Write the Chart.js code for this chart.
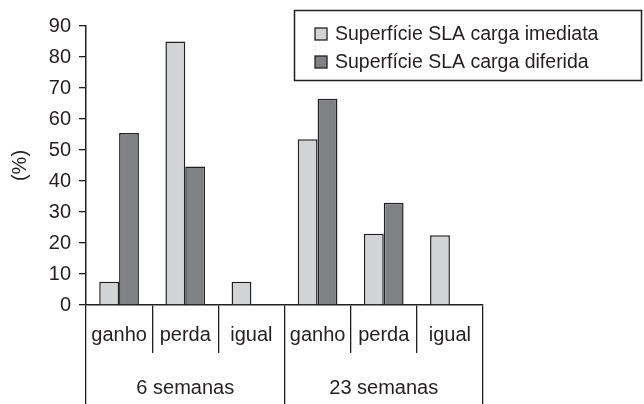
<!DOCTYPE html>
<html>
<head>
<meta charset="utf-8">
<script src="https://cdn.jsdelivr.net/npm/chart.js@4"></script>
<style>
  html, body { margin: 0; padding: 0; background: #fff; }
  #wrap { width: 644px; height: 404px; }
</style>
</head>
<body>
<div id="wrap"><canvas id="chart"></canvas></div>
<script>
'use strict';

// data
const categories = ['ganho', 'perda', 'igual', 'ganho', 'perda', 'igual'];
const periods = ['6 semanas', '23 semanas'];
const seriesNames = ['Superfície SLA carga imediata', 'Superfície SLA carga diferida'];
const imediata = [7.5, 85, 7.5, 53.5, 23, 22.5];
const diferida = [55.5, 44.7, 0, 66.5, 33, 0];
const yTicks = [0, 10, 20, 30, 40, 50, 60, 70, 80, 90];

const INK = '#231f20';
const FONT = '"Liberation Sans", Arial, sans-serif';

// boxed legend, drawn over the top right corner
let boxLegend = {
    id: 'boxLegend',
    afterDraw: function(chart) {
        let ctx = chart.ctx;
        ctx.save();
        ctx.lineWidth = 1.5;
        ctx.strokeStyle = INK;
        ctx.strokeRect(294.5, 10.5, 347, 70);
        ctx.font = '19.5px ' + FONT;
        ctx.textBaseline = 'middle';
        chart.data.datasets.forEach((ds, i) => {
            let cy = 34 + i * 28;
            ctx.fillStyle = ds.backgroundColor;
            ctx.fillRect(315, cy - 6, 12, 12);
            ctx.lineWidth = 1.3;
            ctx.strokeRect(315, cy - 6, 12, 12);
            ctx.fillStyle = INK;
            ctx.fillText(ds.label, 335, cy + 1);
        });
        ctx.restore();
    }
};

new Chart(document.getElementById('chart'), {
    type: 'bar',
    data: {
        labels: categories,
        datasets: [{
            label: seriesNames[0],
            data: imediata,
            backgroundColor: '#d2d3d5',
            borderColor: INK,
            borderWidth: 1.5,
        }, {
            label: seriesNames[1],
            data: diferida,
            backgroundColor: '#808184',
            borderColor: INK,
            borderWidth: 1.5,
        }]
    },
    options: {
        responsive: true,
        maintainAspectRatio: false,
        animation: false,
        devicePixelRatio: 1,
        categoryPercentage: 0.6,
        barPercentage: 1.0,
        layout: { padding: { top: 26, right: 161, left: 0, bottom: 0 } },
        plugins: {
            legend: { display: false },
            tooltip: { enabled: false },
        },
        scales: {
            x: {
                type: 'category',
                offset: true,
                grid: { display: true, offset: true, drawOnChartArea: false, drawTicks: true, tickLength: 48, color: INK, lineWidth: 1.3 },
                border: { display: true, color: INK, width: 1.5 },
                ticks: { color: INK, font: { family: FONT, size: 20 }, padding: -30, maxRotation: 0, autoSkip: false },
                afterFit: (s) => { s.height = 48; },
            },
            x2: {
                type: 'category',
                labels: periods,
                position: 'bottom',
                offset: true,
                grid: { display: true, offset: true, drawOnChartArea: false, drawTicks: true, tickLength: 51, color: INK, lineWidth: 1.3 },
                border: { display: false },
                ticks: { color: INK, font: { family: FONT, size: 20 }, padding: -28, maxRotation: 0, autoSkip: false },
                afterFit: (s) => { s.height = 51; },
            },
            y: {
                min: 0,
                max: 90,
                afterBuildTicks: (s) => { s.ticks = yTicks.map(v => ({ value: v })); },
                grid: { display: true, drawOnChartArea: false, drawTicks: true, tickLength: 7, color: INK, lineWidth: 1.3 },
                border: { display: true, color: INK, width: 1.5 },
                ticks: { color: INK, font: { family: FONT, size: 20 }, padding: 8 },
                title: { display: true, text: '(%)', color: INK, font: { family: FONT, size: 20 }, padding: { top: 8, bottom: 0 } },
                afterFit: (s) => { s.width = 86; },
            }
        }
    },
    plugins: [boxLegend]
});
</script>
</body>
</html>
